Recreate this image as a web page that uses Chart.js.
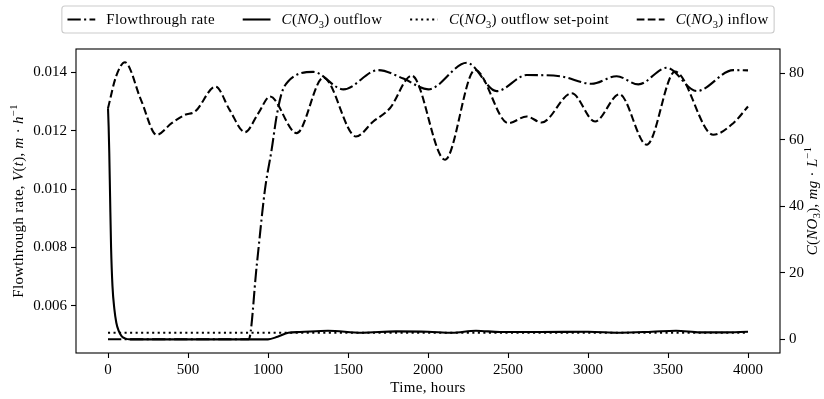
<!DOCTYPE html>
<html><head><meta charset="utf-8">
<script src="https://cdn.jsdelivr.net/npm/chart.js@4/dist/chart.umd.min.js"></script>
<style>html,body{margin:0;padding:0;background:#fff}#wrap{width:824px;height:399px;position:relative}</style>
</head><body><div id="wrap"><canvas id="c" width="824" height="399"></canvas></div>
<script>
// ---- data ----
const xTicks = [0, 500, 1000, 1500, 2000, 2500, 3000, 3500, 4000];
const leftTicks = [0.006, 0.008, 0.010, 0.012, 0.014];
const rightTicks = [0, 20, 40, 60, 80];

const flowTime = [0, 880, 929, 981, 1023, 1054, 1086, 1127, 1283, 1471, 1689, 1846, 2002, 2242, 2429, 2617, 2825, 3023, 3179, 3315, 3492, 3679, 3908, 4000];
const flowRate = [0.00485, 0.00485, 0.00735, 0.00998, 0.01136, 0.0125, 0.0133, 0.0137, 0.01402, 0.01342, 0.01408, 0.01379, 0.01342, 0.01433, 0.01336, 0.01391, 0.01387, 0.01361, 0.01387, 0.01359, 0.01416, 0.01336, 0.01408, 0.01407];

const outTime = [0, 4, 8, 13, 19, 28, 40, 52, 65, 85, 106, 140, 1000, 1060, 1127, 1200, 1375, 1585, 1800, 2000, 2150, 2300, 2450, 2700, 3000, 3200, 3400, 3550, 3700, 3850, 4000];
const outConc = [69.5, 64, 56, 43, 28, 16, 9, 5, 2.8, 1.0, 0.3, 0, 0, 0.8, 2.0, 2.2, 2.6, 2.0, 2.4, 2.3, 2.0, 2.6, 2.2, 2.2, 2.3, 2.0, 2.3, 2.6, 2.1, 2.1, 2.3];

const setTime = [0, 4000];
const setConc = [2.0, 2.0];

const inTime = [0, 50, 106, 206, 304, 398, 481, 544, 673, 760, 856, 940, 1012, 1179, 1346, 1550, 1658, 1762, 1898, 2106, 2294, 2502, 2617, 2710, 2898, 3044, 3196, 3367, 3544, 3783, 3908, 4000];
const inConc = [69.5, 79, 83.3, 72, 61.5, 65, 67.5, 68.5, 76, 69, 62.3, 68, 73, 62, 78.7, 61, 65.5, 69.5, 79.3, 54, 81, 65, 67, 65.2, 74, 65.5, 73.7, 58.5, 80.5, 61.5, 65, 70];

// ---- styles ----
const FONT = '"Liberation Serif"';
const FS = 15;
const LW = 2.08;
const DASH = [7.7, 3.33];
const DASHDOT = [13.3, 3.33, 2.08, 3.33];
const DOT = [2.08, 3.44];
const SPACING = '0.3px';

const pts = (xs, ys) => xs.map((x, i) => ({x: x, y: ys[i]}));

function fontFor(s, size) {
  const sz = (s.sub || s.sup) ? size * 0.7 : size;
  return (s.it ? 'italic ' : '') + sz + 'px ' + FONT;
}
function richWidth(ctx, segs, size) {
  let w = 0;
  ctx.letterSpacing = SPACING;
  for (const s of segs) { ctx.font = fontFor(s, size); w += ctx.measureText(s.t).width; }
  return w;
}
function drawRich(ctx, segs, x, yMid, size, align) {
  const w = richWidth(ctx, segs, size);
  let cx = align === 'center' ? x - w / 2 : (align === 'right' ? x - w : x);
  const base = yMid + size * 0.33;
  ctx.textBaseline = 'alphabetic';
  ctx.textAlign = 'left';
  ctx.fillStyle = '#000';
  ctx.letterSpacing = SPACING;
  for (const s of segs) {
    ctx.font = fontFor(s, size);
    const dy = s.sub ? size * 0.22 : (s.sup ? -size * 0.42 : 0);
    ctx.fillText(s.t, cx, base + dy);
    cx += ctx.measureText(s.t).width;
  }
  ctx.letterSpacing = '0px';
  return w;
}

const CNO3 = [{t:'C', it:true}, {t:'('}, {t:'NO', it:true}, {t:'3', sub:true}, {t:')'}];
const legendItems = [
  {dash: DASHDOT, segs: [{t:'Flowthrough rate'}]},
  {dash: [], segs: CNO3.concat([{t:' outflow'}])},
  {dash: DOT, segs: CNO3.concat([{t:' outflow set-point'}])},
  {dash: DASH, segs: CNO3.concat([{t:' inflow'}])}
];
const leftTitle = [{t:'Flowthrough rate, '}, {t:'V', it:true}, {t:'('}, {t:'t', it:true}, {t:'), '}, {t:'m', it:true}, {t:' · '}, {t:'h', it:true}, {t:'−1', sup:true}];
const rightTitle = CNO3.concat([{t:', '}, {t:'mg', it:true}, {t:' · '}, {t:'L', it:true}, {t:'−1', sup:true}]);

const decor = {
  id: 'decor',
  afterDraw(chart) {
    const ctx = chart.ctx, ca = chart.chartArea;
    ctx.save();
    // frame
    ctx.strokeStyle = '#000'; ctx.lineWidth = 1.1; ctx.setLineDash([]);
    ctx.strokeRect(ca.left, ca.top, ca.right - ca.left, ca.bottom - ca.top);
    // axis titles
    drawRich(ctx, [{t:'Time, hours'}], (ca.left + ca.right) / 2, 387, FS, 'center');
    ctx.save(); ctx.translate(18, (ca.top + ca.bottom) / 2); ctx.rotate(-Math.PI / 2);
    drawRich(ctx, leftTitle, 0, 0, FS, 'center'); ctx.restore();
    ctx.save(); ctx.translate(812, (ca.top + ca.bottom) / 2); ctx.rotate(-Math.PI / 2);
    drawRich(ctx, rightTitle, 0, 0, FS, 'center'); ctx.restore();
    // legend
    const HL = 27.8, PAD = 11.1, COL = 27.8;
    const widths = legendItems.map(it => richWidth(ctx, it.segs, FS));
    const W = widths.reduce((a, b) => a + b, 0) + legendItems.length * (HL + PAD) + (legendItems.length - 1) * COL;
    const cxL = 418, cy = 19.5;
    let x = cxL - W / 2;
    const bx = x - 5.6, bw = W + 11.2, by = 6, bh = 27;
    ctx.beginPath();
    if (ctx.roundRect) ctx.roundRect(bx, by, bw, bh, 3); else ctx.rect(bx, by, bw, bh);
    ctx.fillStyle = 'rgba(255,255,255,0.8)'; ctx.fill();
    ctx.strokeStyle = 'rgb(204,204,204)'; ctx.lineWidth = 1.1; ctx.stroke();
    legendItems.forEach((it, i) => {
      ctx.beginPath();
      ctx.setLineDash(it.dash);
      ctx.lineWidth = LW; ctx.strokeStyle = '#000'; ctx.lineCap = 'butt';
      ctx.moveTo(x, cy); ctx.lineTo(x + HL, cy); ctx.stroke();
      ctx.setLineDash([]);
      x += HL + PAD;
      drawRich(ctx, it.segs, x, cy, FS, 'left');
      x += widths[i] + COL;
    });
    ctx.restore();
  }
};

const tickFont = {family: FONT, size: FS};
const gridOpts = {drawOnChartArea: false, drawTicks: true, tickLength: 5, tickColor: '#000', tickWidth: 1.1, color: '#000'};

new Chart(document.getElementById('c'), {
  type: 'line',
  data: {
    datasets: [
      {label: 'Flowthrough rate', data: pts(flowTime, flowRate), yAxisID: 'yL', borderDash: DASHDOT},
      {label: 'C(NO3) outflow', data: pts(outTime, outConc), yAxisID: 'yR', borderDash: []},
      {label: 'C(NO3) outflow set-point', data: pts(setTime, setConc), yAxisID: 'yR', borderDash: DOT},
      {label: 'C(NO3) inflow', data: pts(inTime, inConc), yAxisID: 'yR', borderDash: DASH}
    ].map(d => Object.assign(d, {borderColor: '#000', borderWidth: LW, pointRadius: 0, fill: false, cubicInterpolationMode: 'monotone', borderCapStyle: 'butt'}))
  },
  options: {
    responsive: false,
    animation: false,
    devicePixelRatio: 1,
    layout: {padding: {top: 49, left: 0, right: 0, bottom: 0}},
    plugins: {legend: {display: false}, tooltip: {enabled: false}},
    scales: {
      x: {
        type: 'linear', min: -200, max: 4200,
        afterBuildTicks: s => { s.ticks = xTicks.map(v => ({value: v})); },
        afterFit: s => { s.height = 46; },
        ticks: {font: tickFont, color: '#000', padding: 3, maxRotation: 0, callback: v => String(v)},
        grid: gridOpts, border: {display: false}
      },
      yL: {
        type: 'linear', position: 'left', min: 0.004376, max: 0.014804,
        afterBuildTicks: s => { s.ticks = leftTicks.map(v => ({value: v})); },
        afterFit: s => { s.width = 76; },
        ticks: {font: tickFont, color: '#000', padding: 4, callback: v => v.toFixed(3)},
        grid: gridOpts, border: {display: false}
      },
      yR: {
        type: 'linear', position: 'right', min: -4.1, max: 87.3,
        afterBuildTicks: s => { s.ticks = rightTicks.map(v => ({value: v})); },
        afterFit: s => { s.width = 44; },
        ticks: {font: tickFont, color: '#000', padding: 4, callback: v => String(v)},
        grid: gridOpts, border: {display: false}
      }
    }
  },
  plugins: [decor]
});
</script>
</body></html>
